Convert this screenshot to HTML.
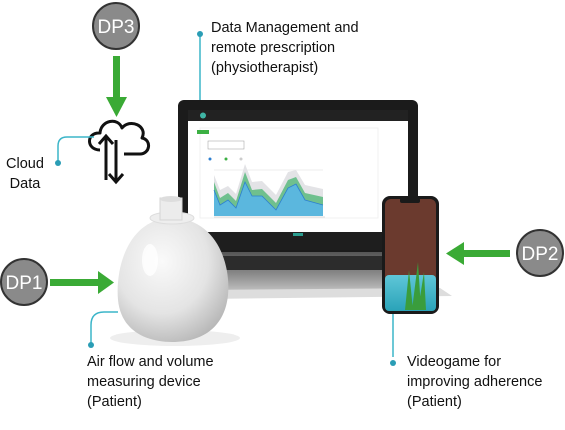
<!DOCTYPE html>
<html><head><style>
body{margin:0;width:565px;height:430px;background:#fff;overflow:hidden;position:relative;font-family:"Liberation Sans",sans-serif;}
.t{position:absolute;font-size:14.5px;line-height:20px;color:#111;}
</style></head><body>
<svg width="565" height="430" style="position:absolute;left:0;top:0">
<defs>
<radialGradient id="egg" cx="0.4" cy="0.35" r="0.7"><stop offset="0" stop-color="#fafafa"/><stop offset="0.6" stop-color="#e4e4e4"/><stop offset="1" stop-color="#b8b8b8"/></radialGradient>
<linearGradient id="sea" x1="0" y1="0" x2="0" y2="1"><stop offset="0" stop-color="#5fc6d8"/><stop offset="1" stop-color="#2aa3b8"/></linearGradient>
<linearGradient id="base" x1="0" y1="0" x2="0" y2="1"><stop offset="0" stop-color="#555"/><stop offset="0.5" stop-color="#8a8a8a"/><stop offset="1" stop-color="#d0d0d0"/></linearGradient>
</defs>
<!-- laptop -->
<rect x="178" y="100" width="240" height="155" rx="6" fill="#1b1b1b"/>
<rect x="188" y="110" width="220" height="125" fill="#fff"/>
<rect x="188" y="110" width="220" height="11" fill="#222"/>
<circle cx="203" cy="115.5" r="3" fill="#3fb5a5"/>
<rect x="200" y="128" width="178" height="90" fill="none" stroke="#eee" stroke-width="0.8"/>
<rect x="188" y="232" width="220" height="18" fill="#1e1e1e"/>
<rect x="293" y="233" width="10" height="3" fill="#2a9d8f"/>
<rect x="197" y="130" width="12" height="4" fill="#3cb043"/>
<rect x="208" y="141" width="36" height="8" fill="#fff" stroke="#999" stroke-width="0.5"/>
<g font-size="3" fill="#555"><circle cx="210" cy="159" r="1.5" fill="#2d7fd0"/><circle cx="226" cy="159" r="1.5" fill="#3cb043"/><circle cx="241" cy="159" r="1.5" fill="#ccc"/></g>
<line x1="214" y1="170" x2="323" y2="170" stroke="#ddd" stroke-width="0.5"/>
<polygon points="214,216 214,175 220,190 228,186 236,194 245,164 252,182 262,181 276,195 288,172 296,170 305,185 323,189 323,216" fill="#e3e3e6"/>
<polygon points="214,216 214,182 220,198 228,193 236,201 245,172 252,190 262,189 276,203 288,180 296,177 305,193 323,197 323,216" fill="#6fc08e"/>
<polygon points="214,216 214,190 220,205 228,200 236,208 245,182 252,196 262,196 276,210 288,188 296,184 305,200 323,205 323,216" fill="#5bb7de"/>
<polyline points="214,190 220,205 228,200 236,208 245,182 252,196 262,196 276,210 288,188 296,184 305,200 323,205" fill="none" stroke="#2d7fd0" stroke-width="0.8"/>
<line x1="214" y1="217" x2="325" y2="217" stroke="#bbb" stroke-width="0.5"/>
<polygon points="185,252 412,252 440,292 200,296" fill="url(#base)"/>
<rect x="200" y="256" width="230" height="14" fill="#2c2c2c"/>
<polygon points="200,290 440,288 452,296 205,299" fill="#ddd"/>
<!-- egg -->
<ellipse cx="175" cy="338" rx="65" ry="8" fill="#eee"/>
<path d="M172 218 C130 218 115 265 118 300 C121 330 145 342 172 342 C205 342 225 325 228 295 C231 262 215 218 172 218Z" fill="url(#egg)"/>
<ellipse cx="172" cy="218" rx="22" ry="6" fill="#eee" stroke="#ddd"/>
<rect x="160" y="198" width="22" height="22" fill="#ececec" stroke="#d5d5d5"/>
<ellipse cx="171" cy="199" rx="11" ry="3" fill="#ddd"/>
<ellipse cx="150" cy="260" rx="8" ry="16" fill="#fff" opacity="0.8"/>
<!-- phone -->
<rect x="382" y="196" width="57" height="118" rx="8" fill="#1a1a1a"/>
<rect x="385" y="199" width="51" height="112" rx="6" fill="#6b3a2e"/>
<rect x="385" y="275" width="51" height="36" rx="4" fill="url(#sea)"/>
<rect x="400" y="198" width="20" height="5" rx="2" fill="#1a1a1a"/>
<path d="M405 310 L409 270 L413 310 Z M412 310 L418 262 L421 310 Z M418 310 L424 272 L426 310Z" fill="#3a9d3c"/>
<!-- cloud -->
<path d="M100 150 C86 150 86 132 100 133 C101 120 118 117 122 128 C130 118 148 126 142 138 C152 140 150 154 140 154 L124 154" fill="none" stroke="#111" stroke-width="3" stroke-linejoin="round"/>
<path d="M106 180 L106 136 M99 144 L106 136 L113 144" fill="none" stroke="#111" stroke-width="3"/>
<path d="M116 140 L116 182 M109 174 L116 182 L123 174" fill="none" stroke="#111" stroke-width="3"/>
<!-- DP circles -->
<g font-family="Liberation Sans,sans-serif" font-size="19" fill="#fff" text-anchor="middle">
<circle cx="116" cy="26" r="23" fill="#8a8a8a" stroke="#333" stroke-width="2"/><text x="116" y="33">DP3</text>
<circle cx="24" cy="282" r="23" fill="#8a8a8a" stroke="#333" stroke-width="2"/><text x="24" y="289">DP1</text>
<circle cx="540" cy="253" r="23" fill="#8a8a8a" stroke="#333" stroke-width="2"/><text x="540" y="260">DP2</text>
</g>
<!-- arrows -->
<g fill="#3aaa35">
<rect x="113" y="56" width="7" height="43"/><polygon points="106,97 127,97 116.5,117"/>
<rect x="50" y="279" width="50" height="7"/><polygon points="98,271 98,294 114,282.5"/>
<rect x="462" y="250" width="48" height="7"/><polygon points="464,242 464,265 446,253.5"/>
</g>
<!-- leaders -->
<g fill="none" stroke="#3bb5c9" stroke-width="1.5">
<path d="M200 34 L200 100"/>
<path d="M58 162 L58 146 Q58 137 67 137 L94 137"/>
<path d="M91 345 L91 325 Q91 312 104 312 L118 312"/>
<path d="M393 314 L393 357"/>
</g>
<g fill="#2a9db5"><circle cx="200" cy="34" r="3"/><circle cx="58" cy="163" r="3"/><circle cx="91" cy="345" r="3"/><circle cx="393" cy="363" r="3"/></g>
</svg>
<div class="t" style="left:211px;top:18px">Data Management and<br>remote prescription<br>(physiotherapist)</div>
<div class="t" style="left:3px;top:154px;text-align:center;width:44px">Cloud<br>Data</div>
<div class="t" style="left:87px;top:352px">Air flow and volume<br>measuring device<br>(Patient)</div>
<div class="t" style="left:407px;top:352px">Videogame for<br>improving adherence<br>(Patient)</div>
</body></html>
